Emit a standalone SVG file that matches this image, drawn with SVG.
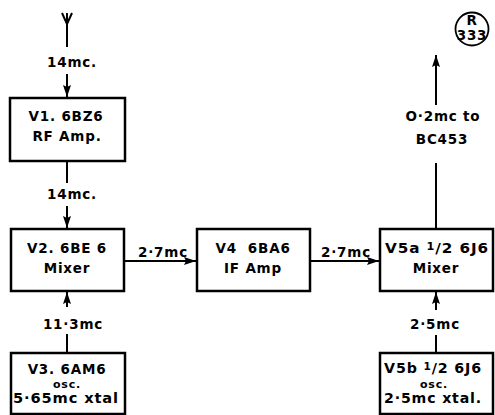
<svg xmlns="http://www.w3.org/2000/svg" width="495" height="415" viewBox="0 0 495 415">
<style>
.box{fill:#fff;stroke:#000;stroke-width:2.5}
.ln{fill:none;stroke:#000;stroke-width:2}
text{font-family:"DejaVu Sans","Liberation Sans",sans-serif;font-weight:bold;font-size:13.5px;fill:#000;text-anchor:middle;letter-spacing:0.8px}
.sm{font-size:11px}
</style>
<defs>
<marker id="ah" viewBox="0 0 12 8" refX="12" refY="4" markerWidth="12" markerHeight="8" markerUnits="userSpaceOnUse" orient="auto">
<path d="M0,0 L12,4 L0,8 L2,4 Z" fill="#000"/>
</marker>
</defs>
<rect width="495" height="415" fill="#fff"/>
<g id="connectors">
<polyline class="ln" points="62,13 67,24 72,13"/>
<line class="ln" x1="67" y1="13" x2="67" y2="47"/>
<line class="ln" x1="67" y1="74" x2="67" y2="97" marker-end="url(#ah)"/>
<line class="ln" x1="67" y1="161" x2="67" y2="183"/>
<line class="ln" x1="67" y1="206" x2="67" y2="228" marker-end="url(#ah)"/>
<line class="ln" x1="67" y1="353" x2="67" y2="334"/>
<line class="ln" x1="67" y1="307" x2="67" y2="292" marker-end="url(#ah)"/>
<line class="ln" x1="124" y1="261" x2="196" y2="261" marker-end="url(#ah)"/>
<line class="ln" x1="310" y1="261" x2="379" y2="261" marker-end="url(#ah)"/>
<line class="ln" x1="436" y1="229" x2="436" y2="163"/>
<line class="ln" x1="436" y1="105" x2="436" y2="55" marker-end="url(#ah)"/>
<line class="ln" x1="436" y1="353" x2="436" y2="335"/>
<line class="ln" x1="436" y1="310" x2="436" y2="292" marker-end="url(#ah)"/>
<text x="72" y="67">14mc.</text>
<text x="72" y="199">14mc.</text>
<text x="73" y="329">11·3mc</text>
<text x="163" y="257">2·7mc</text>
<text x="346" y="257">2·7mc</text>
<text x="435" y="329">2·5mc</text>
<text x="443" y="121">O·2mc to</text>
<text x="442" y="144">BC453</text>
</g>
<g id="v1">
<rect class="box" x="10" y="98" width="115" height="63"/>
<text x="66" y="121">V1. 6BZ6</text>
<text x="67" y="141">RF Amp.</text>
</g>
<g id="v2">
<rect class="box" x="11" y="229" width="113" height="62"/>
<text x="67" y="253">V2. 6BE 6</text>
<text x="67" y="273">Mixer</text>
</g>
<g id="v3">
<rect class="box" x="11" y="353" width="114" height="61"/>
<text x="67" y="374">V3. 6AM6</text>
<text class="sm" x="67" y="388">osc.</text>
<text x="66" y="403" font-size="13" letter-spacing="0" textLength="106" lengthAdjust="spacingAndGlyphs">5·65mc xtal</text>
</g>
<g id="v4">
<rect class="box" x="197" y="229" width="113" height="62"/>
<text x="253" y="253" xml:space="preserve">V4  6BA6</text>
<text x="253" y="273">IF Amp</text>
</g>
<g id="v5a">
<rect class="box" x="380" y="229" width="113" height="62"/>
<text x="437" y="253" letter-spacing="0" textLength="104" lengthAdjust="spacingAndGlyphs">V5a <tspan font-size="10" dy="-3">1</tspan><tspan dy="3">/2 6J6</tspan></text>
<text x="436" y="273">Mixer</text>
</g>
<g id="v5b">
<rect class="box" x="380" y="353" width="113" height="61"/>
<text x="433" y="373" letter-spacing="0" textLength="98" lengthAdjust="spacingAndGlyphs">V5b <tspan font-size="10" dy="-3">1</tspan><tspan dy="3">/2 6J6</tspan></text>
<text class="sm" x="434" y="387.5">osc.</text>
<text x="433" y="403" font-size="13" letter-spacing="0" textLength="98" lengthAdjust="spacingAndGlyphs">2·5mc xtal.</text>
</g>
<g id="r333">
<circle cx="472" cy="29" r="16.5" fill="none" stroke="#000" stroke-width="1.8"/>
<text x="472" y="25" font-size="10" letter-spacing="0">R</text>
<text x="472" y="40" font-size="10" letter-spacing="0">333</text>
</g>
</svg>
